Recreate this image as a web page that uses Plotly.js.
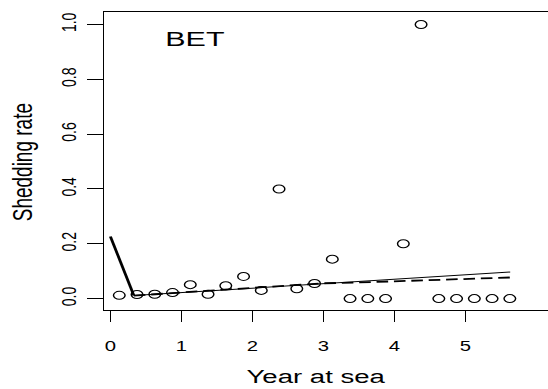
<!DOCTYPE html>
<html>
<head>
<meta charset="utf-8">
<script src="https://cdn.plot.ly/plotly-3.0.1.min.js"></script>
<style>
  html, body { margin: 0; padding: 0; overflow: hidden; background: #fff; width: 548px; height: 389px; }
  #plot { width: 420px; height: 389px; transform: scaleX(1.45); transform-origin: 0 0; }
</style>
</head>
<body>
<div id="plot"></div>
<script>
// Observed shedding rates by year at sea (quarter midpoints)
const yearAtSea = [0.125, 0.375, 0.625, 0.875, 1.125, 1.375, 1.625, 1.875, 2.125, 2.375, 2.625, 2.875,
                   3.125, 3.375, 3.625, 3.875, 4.125, 4.375, 4.625, 4.875, 5.125, 5.375, 5.625];
const sheddingRate = [0.012, 0.015, 0.016, 0.022, 0.051, 0.016, 0.047, 0.081, 0.030, 0.400, 0.036, 0.055,
                      0.144, 0, 0, 0, 0.200, 1.000, 0, 0, 0, 0, 0];

// Fitted model (solid): initial drop then slow rise
const initX = [0, 0.33];
const initY = [0.227, 0.011];
const fitX = [0.33, 1, 2, 3, 4, 5, 5.63];
const fitY = [0.011, 0.022, 0.038, 0.054, 0.070, 0.086, 0.097];

// Alternative model (dashed)
const altX = [0.33, 1, 2, 3, 3.5, 4, 4.5, 5, 5.63];
const altY = [0.011, 0.022, 0.038, 0.056, 0.059, 0.063, 0.067, 0.071, 0.077];

const yTicks = [0, 0.2, 0.4, 0.6, 0.8, 1.0];
const xTicks = [0, 1, 2, 3, 4, 5];

const FONT = 'Liberation Sans, Arial, Helvetica, sans-serif';

const traces = [
  { x: initX, y: initY, mode: 'lines', line: { color: '#000', width: 2 }, hoverinfo: 'skip' },
  { x: fitX, y: fitY, mode: 'lines', line: { color: '#000', width: 1 }, hoverinfo: 'skip' },
  { x: altX, y: altY, mode: 'lines', line: { color: '#000', width: 1.8, dash: '8px,4px' }, hoverinfo: 'skip' },
  { x: yearAtSea, y: sheddingRate, mode: 'markers',
    marker: { symbol: 'circle-open', size: 8, color: '#000', line: { color: '#000', width: 1 } } }
];

const layout = {
  width: 420, height: 389,
  margin: { l: 72, r: 20, t: 12, b: 79, pad: 0, autoexpand: false },
  paper_bgcolor: '#fff', plot_bgcolor: '#fff',
  showlegend: false,
  font: { family: FONT, color: '#000', size: 14 },
  xaxis: {
    range: [-0.0845, 6.613], tickvals: xTicks, ticktext: xTicks.map(String),
    showgrid: false, zeroline: false, showline: true, mirror: true, linecolor: '#000', linewidth: 1,
    ticks: 'outside', ticklen: 10.5, tickwidth: 1, tickcolor: '#000', ticklabelstandoff: 13,
    tickfont: { family: FONT, size: 14, color: '#000' }, automargin: false
  },
  yaxis: {
    range: [-0.0415, 1.0455], tickvals: yTicks, ticktext: yTicks.map(v => v.toFixed(1)),
    tickangle: -90,
    showgrid: false, zeroline: false, showline: true, mirror: false, linecolor: '#000', linewidth: 1,
    ticks: 'outside', ticklen: 11, tickwidth: 1, tickcolor: '#000', ticklabelstandoff: 2,
    tickfont: { family: FONT, size: 14, color: '#000' }, automargin: false
  },
  annotations: [
    { text: 'BET', xref: 'paper', yref: 'paper', x: 0, y: 1, xanchor: 'center', yanchor: 'middle',
      xshift: 62.7, yshift: -26.4, showarrow: false, font: { family: FONT, size: 21, color: '#000' } },
    { text: 'Year at sea', xref: 'paper', yref: 'paper', x: 0, y: 0, xanchor: 'center', yanchor: 'middle',
      xshift: 217.8 - 72, yshift: -66.7, showarrow: false, font: { family: FONT, size: 19, color: '#000' } },
    { text: 'Shedding rate', xref: 'paper', yref: 'paper', x: 0, y: 0.5, xanchor: 'center', yanchor: 'middle',
      textangle: -90, xshift: -56.7, yshift: -1, showarrow: false, font: { family: FONT, size: 19, color: '#000' } }
  ]
};

Plotly.newPlot('plot', traces, layout, { staticPlot: true, displayModeBar: false });
</script>
</body>
</html>
